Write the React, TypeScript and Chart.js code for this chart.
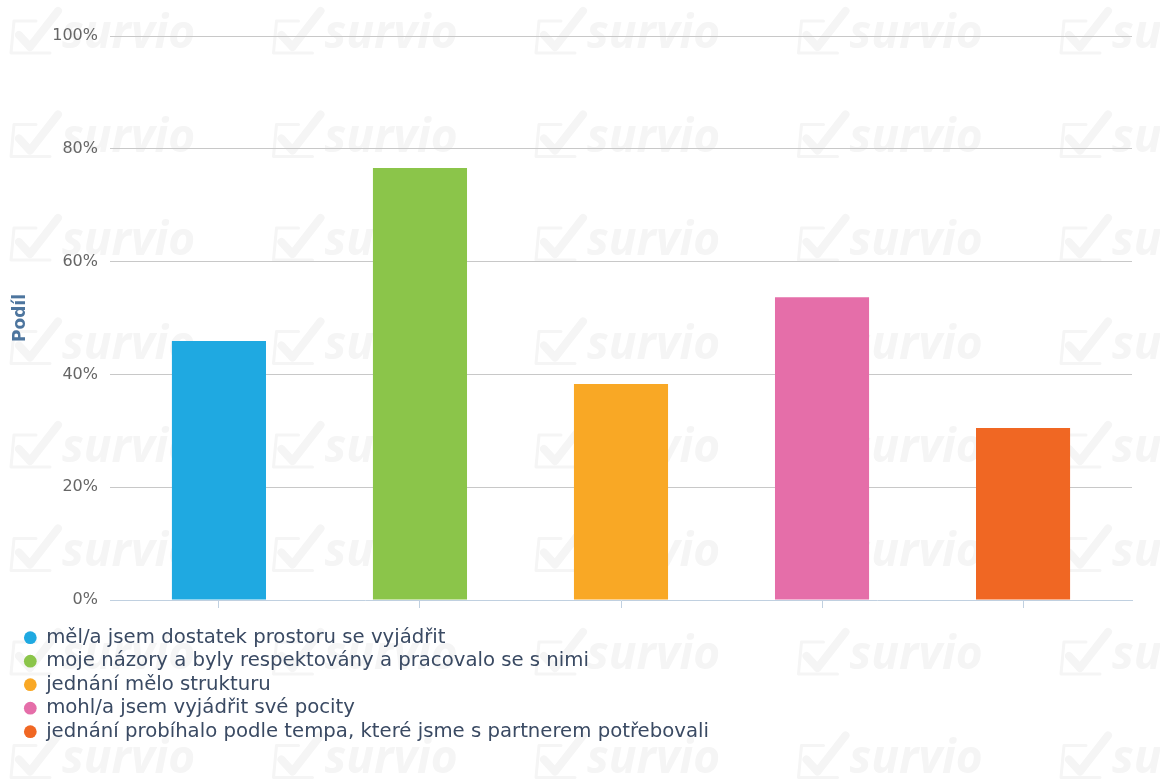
import React, { useEffect, useRef } from 'react';
import { Chart, registerables } from 'chart.js';

Chart.register(...registerables);

const categories = [
  'měl/a jsem dostatek prostoru se vyjádřit',
  'moje názory a byly respektovány a pracovalo se s nimi',
  'jednání mělo strukturu',
  'mohl/a jsem vyjádřit své pocity',
  'jednání probíhalo podle tempa, které jsme s partnerem potřebovali',
];
const shares = [45.9, 76.6, 38.3, 53.7, 30.5];
const barColors = ['#1fa9e1', '#8bc54a', '#f9a825', '#e56ea9', '#f06723'];
const yTickValues = [0, 20, 40, 60, 80, 100];
const yAxisTitle = 'Podíl';

const FONT = '"DejaVu Sans", sans-serif';
const LEGEND_SIZE = 19.7;

const watermarkPlugin = {
  id: 'watermark',
  beforeDraw(chart: any) {
    const ctx = chart.ctx as CanvasRenderingContext2D;
    ctx.save();
    const col = '#f5f5f5';
    ctx.fillStyle = col;
    ctx.strokeStyle = col;
    ctx.font = 'italic bold 46px "Open Sans"';
    ctx.textBaseline = 'middle';
    ctx.lineCap = 'round';
    ctx.lineJoin = 'round';
    for (let r = 0; r < 8; r++) {
      const cy = 33 + r * 103.5;
      for (let c = 0; c < 5; c++) {
        const x = 10 + c * 262.5;
        ctx.lineWidth = 3;
        ctx.beginPath();
        ctx.moveTo(x + 26, cy - 12);
        ctx.lineTo(x + 4, cy - 12);
        ctx.lineTo(x + 1, cy + 20);
        ctx.lineTo(x + 40, cy + 20);
        ctx.stroke();
        ctx.lineWidth = 8;
        ctx.beginPath();
        ctx.moveTo(x + 9, cy + 2);
        ctx.lineTo(x + 20, cy + 14);
        ctx.lineTo(x + 48, cy - 22);
        ctx.stroke();
        ctx.fillText('survio', x + 52, cy + 2);
      }
    }
    ctx.restore();
  },
};

export default function App() {
  const ref = useRef<HTMLCanvasElement | null>(null);

  useEffect(() => {
    document.body.style.margin = '0';
    const canvas = ref.current;
    if (!canvas) return;
    const chart = new Chart(canvas, {
      type: 'bar',
      data: {
        datasets: [
          {
            data: shares.map((v, i) => ({ x: i, y: v })) as any,
            backgroundColor: barColors,
            borderWidth: 0,
            barPercentage: 0.468,
            categoryPercentage: 1,
          },
        ],
      },
      options: {
        animation: false,
        responsive: true,
        maintainAspectRatio: false,
        layout: { padding: { top: 36, right: 28, bottom: 31.5, left: 20.5 } },
        scales: {
          x: {
            type: 'linear',
            min: -0.542,
            max: 4.542,
            offset: false,
            afterBuildTicks: (s: any) => {
              s.ticks = categories.map((_, i) => ({ value: i }));
            },
            afterFit: (s: any) => {
              s.height = 24;
            },
            ticks: { display: false },
            grid: {
              display: true,
              offset: false,
              drawOnChartArea: false,
              drawTicks: true,
              tickLength: 8,
              color: '#c0d0e0',
              lineWidth: 1,
            },
            border: { display: true, color: '#c0d0e0', width: 1 },
          },
          y: {
            min: 0,
            max: 100,
            afterBuildTicks: (s: any) => {
              s.ticks = yTickValues.map((v) => ({ value: v }));
            },
            afterFit: (s: any) => {
              s.width = 89.5;
            },
            ticks: {
              callback: (v: any) => v + '%',
              color: '#666666',
              font: { family: FONT, size: 16 },
              padding: 12,
            },
            grid: {
              drawTicks: false,
              lineWidth: 1,
              color: (c: any) => (c.tick && c.tick.value === 0 ? 'rgba(0,0,0,0)' : '#c8c8c8'),
            },
            border: { display: false },
            title: {
              display: true,
              text: yAxisTitle,
              color: '#4d759e',
              font: { family: FONT, size: 17, weight: 'bold' },
              padding: { top: -10.5, bottom: 0 },
            },
          },
        },
        plugins: {
          title: { display: false },
          tooltip: { enabled: false },
          legend: {
            display: true,
            position: 'bottom',
            align: 'start',
            labels: {
              usePointStyle: true,
              pointStyle: 'circle',
              boxWidth: 12,
              boxHeight: 9,
              padding: 23.5 - LEGEND_SIZE,
              color: '#3a4a63',
              font: { family: FONT, size: LEGEND_SIZE },
              generateLabels: () =>
                categories.map((c, i) => ({
                  text: c + '\u00a0'.repeat(110),
                  fillStyle: barColors[i],
                  strokeStyle: barColors[i],
                  lineWidth: 0,
                  pointStyle: 'circle',
                  hidden: false,
                  index: i,
                  datasetIndex: 0,
                  fontColor: '#3a4a63',
                })),
            },
          },
        },
      },
      plugins: [watermarkPlugin],
    });
    return () => chart.destroy();
  }, []);

  return (
    <div style={{ position: 'relative', width: 1160, height: 783 }}>
      <canvas ref={ref} />
    </div>
  );
}
